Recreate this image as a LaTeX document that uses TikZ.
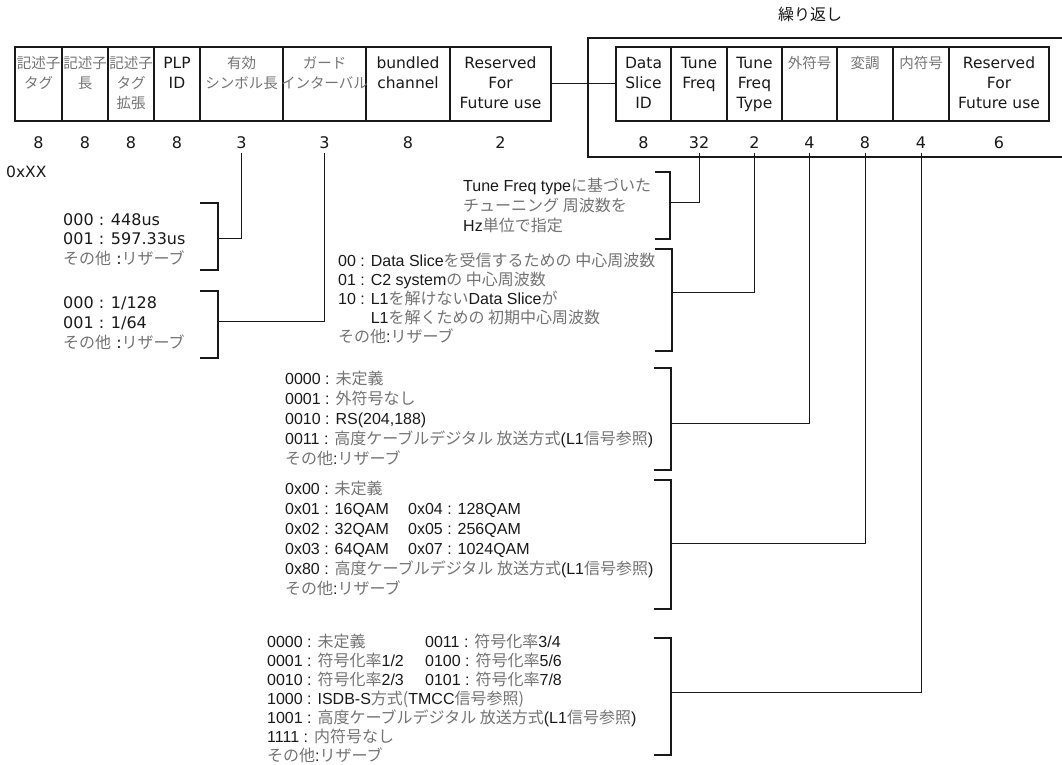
\documentclass[tikz,border=0pt]{standalone}
\usepackage{fontspec}
\setmainfont{Liberation Sans}
\newfontfamily\verd{DejaVu Sans}
\newfontfamily\jpf{Noto Sans CJK JP}
\usetikzlibrary{positioning}
\definecolor{ink}{RGB}{25,25,25}
\definecolor{jgray}{RGB}{115,115,115}
\newcommand{\ja}[1]{{\jpf\color{jgray}#1}}

\begin{document}
\begin{tikzpicture}[x=1pt, y=-1pt,
  fld/.style={draw=ink, line width=1.3pt, minimum height=74pt, inner sep=0pt, outer sep=0pt, anchor=north west},
  hd/.style={anchor=base, align=center, inner sep=0pt, text=ink, font=\verd\fontsize{15.5}{20}\selectfont},
  jhd/.style={hd, font=\jpf\fontsize{14.5}{20}\selectfont, text=jgray},
  bits/.style={below=10pt of #1, inner sep=5pt, text height=12pt, text depth=0pt, text=ink, font=\verd\fontsize{16}{20}\selectfont},
  desc/.style={anchor=base west, align=left, inner sep=0pt, text=ink, font=\fontsize{16}{20}\selectfont},
  vdesc/.style={desc, font=\verd\fontsize{16}{19.5}\selectfont},
  brk/.style={draw=ink, line width=1.3pt},
  lnk/.style={draw=ink, line width=1pt}
]
\useasboundingbox (0,0) rectangle (1062,765);

% fixed part
\node[fld, minimum width=47pt] (tag) at (15,47) {};
\node[fld, minimum width=46pt, right=0pt of tag] (len) {};
\node[fld, minimum width=46pt, right=0pt of len] (ext) {};
\node[fld, minimum width=46pt, right=0pt of ext] (plp) {};
\node[fld, minimum width=83pt, right=0pt of plp] (sym) {};
\node[fld, minimum width=83pt, right=0pt of sym] (gi) {};
\node[fld, minimum width=84pt, right=0pt of gi] (bch) {};
\node[fld, minimum width=101pt, right=0pt of bch] (rsv) {};

\node[jhd] (tagT) at ([yshift=-42pt]tag.north) {記述子\\タグ};
\node[jhd] (lenT) at ([yshift=-42pt]len.north) {記述子\\長};
\node[jhd] (extT) at ([yshift=-62pt]ext.north) {記述子\\タグ\\拡張};
\node[hd] (plpT) at ([yshift=-42pt]plp.north) {PLP\\ID};
\node[jhd] (symT) at ([yshift=-42pt]sym.north) {有効\\シンボル長};
\node[jhd] (giT) at ([yshift=-42pt]gi.north) {ガード\\インターバル};
\node[hd] (bchT) at ([yshift=-42pt]bch.north) {bundled\\channel};
\node[hd] (rsvT) at ([yshift=-62pt]rsv.north) {Reserved\\For\\Future use};

\node[bits=tag] (n1) {8};
\node[bits=len] (n2) {8};
\node[bits=ext] (n3) {8};
\node[bits=plp] (n4) {8};
\node[bits=sym] (n5) {3};
\node[bits=gi] (n6) {3};
\node[bits=bch] (n7) {8};
\node[bits=rsv] (n8) {2};
\node[vdesc, anchor=west, font=\verd\fontsize{15.5}{20}\selectfont] (hex) at (6,172) {0xXX};

% repeated part
\node[jhd, text=ink, font=\jpf\fontsize{16}{20}\selectfont] (rep) at (810,21) {繰り返し};
\draw[brk] (1062,38) -| (588,157) -- (1062,157);

\node[fld, minimum width=55pt] (dsid) at (616,47) {};
\node[fld, minimum width=56pt, right=0pt of dsid] (tf) {};
\node[fld, minimum width=55pt, right=0pt of tf] (tft) {};
\node[fld, minimum width=55pt, right=0pt of tft] (oc) {};
\node[fld, minimum width=56pt, right=0pt of oc] (mod) {};
\node[fld, minimum width=56pt, right=0pt of mod] (ic) {};
\node[fld, minimum width=100pt, right=0pt of ic] (rsv2) {};

\node[hd] (dsidT) at ([yshift=-62pt]dsid.north) {Data\\Slice\\ID};
\node[hd] (tfT) at ([yshift=-42pt]tf.north) {Tune\\Freq};
\node[hd] (tftT) at ([yshift=-62pt]tft.north) {Tune\\Freq\\Type};
\node[jhd] (ocT) at ([yshift=-22pt]oc.north) {外符号};
\node[jhd] (modT) at ([yshift=-22pt]mod.north) {変調};
\node[jhd] (icT) at ([yshift=-22pt]ic.north) {内符号};
\node[hd] (rsv2T) at ([yshift=-62pt]rsv2.north) {Reserved\\For\\Future use};

\node[bits=dsid] (m1) {8};
\node[bits=tf] (m2) {32};
\node[bits=tft] (m3) {2};
\node[bits=oc] (m4) {4};
\node[bits=mod] (m5) {8};
\node[bits=ic] (m6) {4};
\node[bits=rsv2] (m7) {6};

\draw[lnk] (rsv.east) -- (dsid.west);

% value lists
\node[vdesc] (symV) at (63,264) {000 : 448us\\001 : 597.33us\\\ja{その他}~:\ja{リザーブ}};
\draw[brk] (200,203) -| (218,270) -- (200,270);
\coordinate (symB) at (218,238);
\draw[lnk] (symB) -| (n5.south);

\node[vdesc, font=\verd\fontsize{16}{20}\selectfont] (giV) at (63,348) {000 : 1/128\\001 : 1/64\\\ja{その他}~:\ja{リザーブ}};
\draw[brk] (200,291) -| (218,358) -- (200,358);
\coordinate (giB) at (218,321);
\draw[lnk] (giB) -| (n6.south);

\node[desc] (tfV) at (463,231) {Tune Freq type\ja{に基づいた}\\\ja{チューニング 周波数を}\\Hz\ja{単位で指定}};
\draw[brk] (655,172) -| (670,239) -- (655,239);
\coordinate (tfB) at (670,202);
\draw[lnk] (tfB) -| (m2.south);

\node[desc, font=\fontsize{16}{19}\selectfont] (tftV) at (338,342) {00 : Data Slice\ja{を受信するための 中心周波数}\\01 : C2 system\ja{の 中心周波数}\\10 : L1\ja{を解けない}Data Slice\ja{が}\\\phantom{10 : }L1\ja{を解くための 初期中心周波数}\\\ja{その他}:\ja{リザーブ}};
\draw[brk] (655,249) -| (672,351) -- (655,351);
\coordinate (tftB) at (672,292);
\draw[lnk] (tftB) -| (m3.south);

\node[desc] (ocV) at (285,464) {0000 : \ja{未定義}\\0001 : \ja{外符号なし}\\0010 : RS(204,188)\\0011 : \ja{高度ケーブルデジタル 放送方式}(L1\ja{信号参照})\\\ja{その他}:\ja{リザーブ}};
\draw[brk] (654,368) -| (671,470) -- (654,470);
\coordinate (ocB) at (671,423);
\draw[lnk] (ocB) -| (m4.south);

\node[desc] (modV) at (285,594) {0x00 : \ja{未定義}\\\makebox[123pt][l]{0x01 : 16QAM}0x04 : 128QAM\\\makebox[123pt][l]{0x02 : 32QAM}0x05 : 256QAM\\\makebox[123pt][l]{0x03 : 64QAM}0x07 : 1024QAM\\0x80 : \ja{高度ケーブルデジタル 放送方式}(L1\ja{信号参照})\\\ja{その他}:\ja{リザーブ}};
\draw[brk] (654,480) -| (671,609) -- (654,609);
\coordinate (modB) at (671,543);
\draw[lnk] (modB) -| (m5.south);

\node[desc, font=\fontsize{16}{19}\selectfont] (icV) at (267,761) {\makebox[158pt][l]{0000 : \ja{未定義}}0011 : \ja{符号化率}3/4\\\makebox[158pt][l]{0001 : \ja{符号化率}1/2}0100 : \ja{符号化率}5/6\\\makebox[158pt][l]{0010 : \ja{符号化率}2/3}0101 : \ja{符号化率}7/8\\1000 : ISDB-S\ja{方式(}TMCC\ja{信号参照)}\\1001 : \ja{高度ケーブルデジタル 放送方式}(L1\ja{信号参照})\\1111 : \ja{内符号なし}\\\ja{その他}:\ja{リザーブ}};
\draw[brk] (654,638) -| (671,755) -- (654,755);
\coordinate (icB) at (671,692);
\draw[lnk] (icB) -| (m6.south);
\end{tikzpicture}
\end{document}
